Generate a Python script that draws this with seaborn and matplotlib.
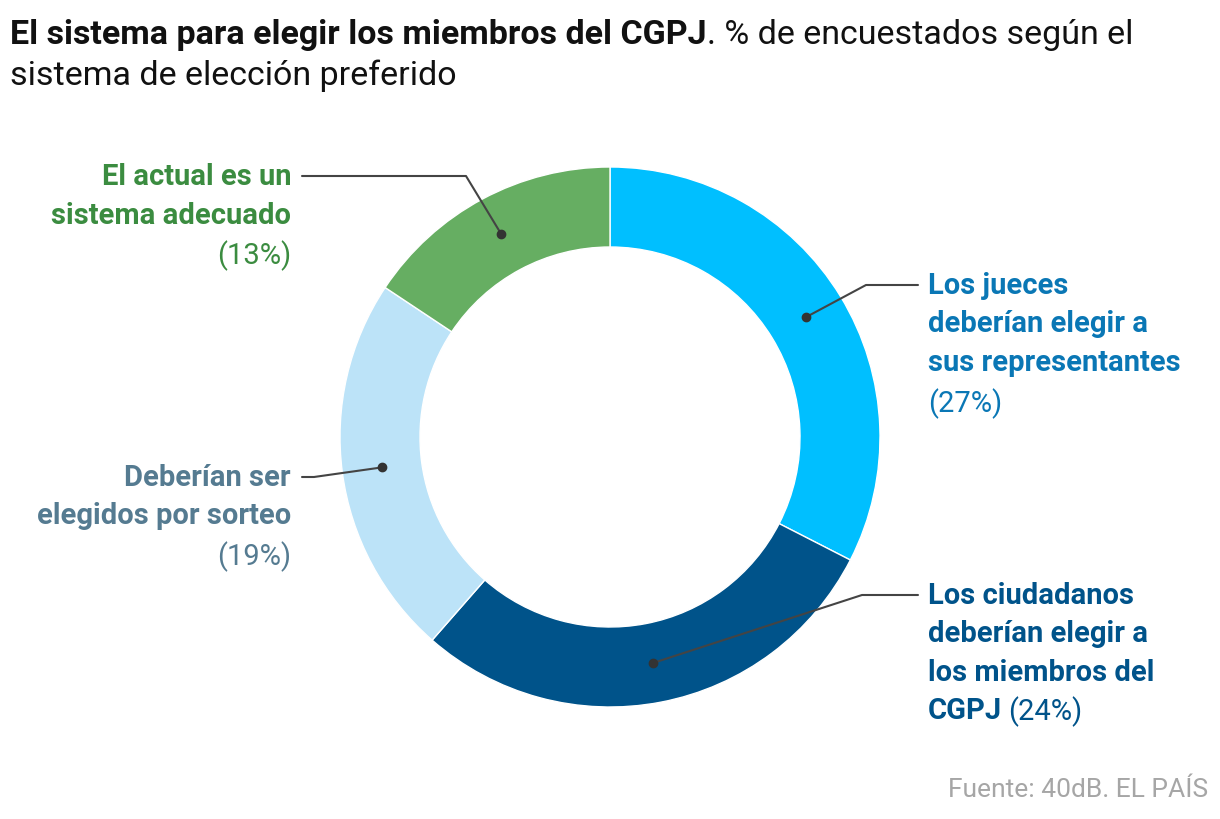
import matplotlib
matplotlib.use("Agg")
import numpy as np
import matplotlib.pyplot as plt
import seaborn as sns

# =========================================
# Data
# =========================================

categories = [
    "Los jueces deberían elegir a sus representantes",
    "Los ciudadanos deberían elegir a los miembros del CGPJ",
    "Deberían ser elegidos por sorteo",
    "El actual es un sistema adecuado",
]
values = [27, 24, 19, 13]
label_lines = [
    ["Los jueces", "deberían elegir a", "sus representantes"],
    ["Los ciudadanos", "deberían elegir a", "los miembros del", "CGPJ"],
    ["Deberían ser", "elegidos por sorteo"],
    ["El actual es un", "sistema adecuado"],
]
wedge_colors = ["#00bfff", "#00538a", "#bce3f8", "#66ae62"]
text_colors = ["#0a77b5", "#00538a", "#557b91", "#3b8c40"]

# =========================================
# Style
# =========================================

sns.set_theme(style="white")
plt.rcParams["font.family"] = ["Roboto", "DejaVu Sans"]

W, H = 1220, 820
fig = plt.figure(figsize=(W / 100, H / 100), dpi=100)
ax = fig.add_axes([0, 0, 1, 1])

cx, cy, R, ring = 610, H - 438, 270, 80

wedges, _ = ax.pie(
    values, colors=wedge_colors, startangle=90, counterclock=False,
    radius=R, center=(cx, cy),
    wedgeprops=dict(width=ring, edgecolor="white", linewidth=1),
)
ax.set_xlim(0, W)
ax.set_ylim(0, H)
ax.set_aspect("equal")
ax.axis("off")

# =========================================
# Labels with leader lines
# =========================================

# (elbow x, elbow y from top, text x, first line y from top, align)
layout = [
    (866, 286, 928, 286, "left"),
    (862, 596, 928, 596, "left"),
    (314, 478, 291, 478, "right"),
    (466, 177, 291, 177, "right"),
]
line_gap = 38.5
fs = 21
renderer = fig.canvas.get_renderer()

for w, val, lines, col, (ex, ey, tx, ty, ha) in zip(
        wedges, values, label_lines, text_colors, layout):
    mid = np.deg2rad((w.theta1 + w.theta2) / 2)
    r_mid = R - ring / 2
    dx, dy = cx + r_mid * np.cos(mid), cy + r_mid * np.sin(mid)
    line_end = tx - 10 if ha == "left" else tx + 11
    ax.plot([dx, ex, line_end], [dy, H - ey, H - ey], color="#444444", lw=1.5)
    ax.plot(dx, dy, "o", color="#333333", ms=6)

    for i, ln in enumerate(lines):
        ax.text(tx, H - (ty + i * line_gap), ln, ha=ha, va="center",
                fontsize=fs, fontweight="bold", color=col)
    pct = f"({val}%)"
    if len(lines) == 4:
        # last bold word shares its line with the percentage
        last = ax.texts[-1]
        bb = last.get_window_extent(renderer)
        ax.text(bb.x1 + 6, H - (ty + 3 * line_gap), pct, ha="left",
                va="center", fontsize=fs, color=col)
    else:
        ax.text(tx, H - (ty + len(lines) * line_gap + 2), pct, ha=ha,
                va="center", fontsize=fs, color=col)

# =========================================
# Title and source
# =========================================

tfs = 24.5
t1 = fig.text(10 / W, 1 - 35 / H, "El sistema para elegir los miembros del CGPJ",
              fontsize=tfs, fontweight="bold", color="#111111", va="center")
bb = t1.get_window_extent(renderer)
fig.text(bb.x1 / W, 1 - 35 / H, ". % de encuestados según el",
         fontsize=tfs, color="#111111", va="center")
fig.text(10 / W, 1 - 76 / H, "sistema de elección preferido",
         fontsize=tfs, color="#111111", va="center")

fig.text(1208 / W, 1 - 790 / H, "Fuente: 40dB. EL PAÍS", ha="right",
         va="center", fontsize=19, color="#a6a6a6")

fig.savefig("out.png", dpi=100, facecolor="white")
